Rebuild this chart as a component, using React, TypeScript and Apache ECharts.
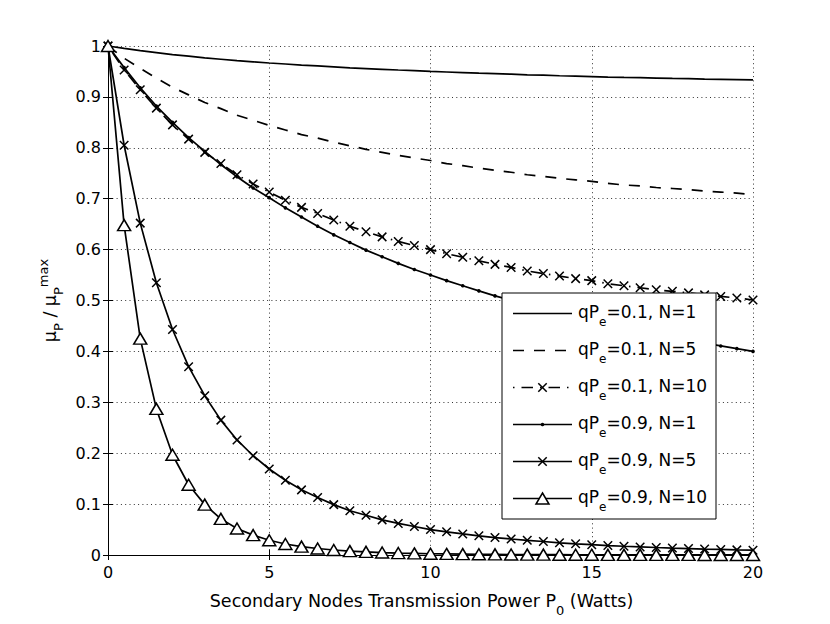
import React, { useEffect, useRef } from 'react';
import * as echarts from 'echarts';

// ---- data ----
const xValues = [
  0, 0.5, 1, 1.5, 2, 2.5, 3, 3.5, 4, 4.5, 5, 5.5, 6, 6.5, 7, 7.5, 8, 8.5, 9, 9.5, 10,
  10.5, 11, 11.5, 12, 12.5, 13, 13.5, 14, 14.5, 15, 15.5, 16, 16.5, 17, 17.5, 18, 18.5, 19, 19.5, 20,
];

const qpe01N1 = [
  1, 0.9952, 0.991, 0.987, 0.983, 0.98, 0.9767, 0.974, 0.9713, 0.969, 0.9666, 0.9646, 0.9625, 0.9608, 0.959,
  0.957, 0.9556, 0.9542, 0.9528, 0.9515, 0.95, 0.9489, 0.9478, 0.9466, 0.9456, 0.9446, 0.9434, 0.9426, 0.9416,
  0.9408, 0.94, 0.939, 0.9382, 0.9377, 0.937, 0.9364, 0.9359, 0.9351, 0.9346, 0.934, 0.9333,
];

const qpe01N5 = [
  1, 0.976, 0.956, 0.937, 0.919, 0.904, 0.889, 0.877, 0.864, 0.854, 0.844, 0.835, 0.826, 0.819, 0.811, 0.804,
  0.797, 0.791, 0.785, 0.78, 0.775, 0.769, 0.765, 0.76, 0.756, 0.752, 0.747, 0.744, 0.74, 0.737, 0.734, 0.73,
  0.727, 0.725, 0.722, 0.72, 0.718, 0.715, 0.713, 0.711, 0.708,
];

const qpe01N10 = [
  1, 0.953, 0.914, 0.878, 0.845, 0.817, 0.791, 0.769, 0.747, 0.729, 0.713, 0.697, 0.683, 0.671, 0.658, 0.646,
  0.635, 0.625, 0.616, 0.608, 0.6, 0.592, 0.585, 0.578, 0.571, 0.565, 0.558, 0.553, 0.548, 0.543, 0.539, 0.533,
  0.529, 0.525, 0.521, 0.518, 0.515, 0.511, 0.508, 0.505, 0.501,
];

const qpe09N1 = [
  1, 0.9575, 0.918, 0.882, 0.85, 0.82, 0.793, 0.767, 0.743, 0.721, 0.702, 0.682, 0.664, 0.646, 0.629, 0.614,
  0.599, 0.586, 0.573, 0.561, 0.55, 0.539, 0.529, 0.519, 0.509, 0.5005, 0.492, 0.4837, 0.4757, 0.4681, 0.4608,
  0.4537, 0.4469, 0.4403, 0.434, 0.4279, 0.422, 0.4163, 0.4107, 0.4054, 0.4,
];

const qpe09N5 = [
  1, 0.805, 0.652, 0.535, 0.443, 0.37, 0.313, 0.265, 0.226, 0.195, 0.169, 0.147, 0.128, 0.113, 0.099, 0.087,
  0.078, 0.069, 0.062, 0.056, 0.05, 0.0455, 0.0414, 0.0377, 0.0342, 0.0314, 0.0288, 0.0265, 0.024, 0.022,
  0.0203, 0.0186, 0.0172, 0.0159, 0.0147, 0.0136, 0.0126, 0.0117, 0.0109, 0.0101, 0.0094,
];

const qpe09N10 = [
  1, 0.648, 0.425, 0.287, 0.197, 0.138, 0.099, 0.071, 0.052, 0.039, 0.029, 0.0216, 0.0164, 0.0128, 0.0098,
  0.0076, 0.0061, 0.0048, 0.0038, 0.0031, 0.0025, 0.0021, 0.0017, 0.0014, 0.0012, 0.001, 0.0008, 0.0007,
  0.0006, 0.0005, 0.0004, 0.0003, 0.0003, 0.0003, 0.0002, 0.0002, 0.0002, 0.0001, 0.0001, 0.0001, 0.0001,
];

const qpeLabels = ['0.1', '0.1', '0.1', '0.9', '0.9', '0.9'];
const nLabels = ['1', '5', '10', '1', '5', '10'];
const seriesValues = [qpe01N1, qpe01N5, qpe01N10, qpe09N1, qpe09N5, qpe09N10];

const xAxisMin = 0;
const xAxisMax = 20;
const xAxisStep = 5;
const yAxisMin = 0;
const yAxisMax = 1;
const yAxisStep = 0.1;

// ---- styling ----
const FONT = 'DejaVu Sans';
const LINE_W = 1.7;
const X_MARK = 'path://M0,0L10,10M10,0L0,10';

type Look = { dash: any; sym: 'none' | 'x' | 'dot' | 'tri' };
const looks: Look[] = [
  { dash: 'solid', sym: 'none' },
  { dash: [11, 10], sym: 'none' },
  { dash: [1.5, 7, 11.5, 7], sym: 'x' },
  { dash: 'solid', sym: 'dot' },
  { dash: 'solid', sym: 'x' },
  { dash: 'solid', sym: 'tri' },
];

function symbolOpts(sym: Look['sym']) {
  if (sym === 'x') {
    return {
      symbol: X_MARK,
      symbolSize: 8.5,
      itemStyle: { color: '#000', borderColor: '#000', borderWidth: 1.5 },
    };
  }
  if (sym === 'dot') {
    return { symbol: 'circle', symbolSize: 3.6, itemStyle: { color: '#000', borderWidth: 0 } };
  }
  if (sym === 'tri') {
    return {
      symbol: 'triangle',
      symbolSize: [13, 11],
      itemStyle: { color: '#fff', borderColor: '#000', borderWidth: 1.5 },
    };
  }
  return { symbol: 'none' };
}

function legendSymbol(sym: Look['sym'], cx: number, cy: number): any[] {
  const z = 101;
  if (sym === 'x') {
    const h = 4.2;
    return [
      { type: 'line', z, shape: { x1: cx - h, y1: cy - h, x2: cx + h, y2: cy + h }, style: { stroke: '#000', lineWidth: 1.5 } },
      { type: 'line', z, shape: { x1: cx - h, y1: cy + h, x2: cx + h, y2: cy - h }, style: { stroke: '#000', lineWidth: 1.5 } },
    ];
  }
  if (sym === 'dot') {
    return [{ type: 'circle', z, shape: { cx, cy, r: 1.8 }, style: { fill: '#000' } }];
  }
  if (sym === 'tri') {
    return [
      {
        type: 'polygon',
        z,
        shape: { points: [[cx, cy - 5.5], [cx + 6.5, cy + 5.5], [cx - 6.5, cy + 5.5]] },
        style: { fill: '#fff', stroke: '#000', lineWidth: 1.5 },
      },
    ];
  }
  return [];
}

export default function App() {
  const ref = useRef<HTMLDivElement>(null);

  useEffect(() => {
    if (!ref.current) return;
    const chart = echarts.init(ref.current, null, { renderer: 'svg' });

    const series = seriesValues.map((vals, i) => ({
      name: `qPe=${qpeLabels[i]}, N=${nLabels[i]}`,
      type: 'line',
      data: xValues.map((x, k) => [x, vals[k]]),
      showSymbol: looks[i].sym !== 'none',
      showAllSymbol: true,
      smooth: false,
      clip: false,
      lineStyle: { color: '#000', width: LINE_W, type: looks[i].dash },
      ...symbolOpts(looks[i].sym),
      z: 2 + i,
    }));

    // legend box drawn with graphic elements
    const LX = 502;
    const LY = 293;
    const legendChildren: any[] = [
      {
        type: 'rect',
        z: 100,
        shape: { x: LX, y: LY, width: 214, height: 226 },
        style: { fill: '#fff', stroke: '#000', lineWidth: 1 },
      },
    ];
    const legendRich = {
      m: { fontFamily: FONT, fontSize: 17, lineHeight: 22, fill: '#000' },
      s: { fontFamily: FONT, fontSize: 12, lineHeight: 2, padding: [20, 0, 0, 0], fill: '#000' },
    };
    looks.forEach((lk, i) => {
      const cy = LY + 20.5 + 37 * i;
      legendChildren.push({
        type: 'line',
        z: 101,
        shape: { x1: LX + 11, y1: cy, x2: LX + 70, y2: cy },
        style: {
          stroke: '#000',
          lineWidth: LINE_W,
          lineDash: Array.isArray(lk.dash) ? lk.dash : null,
        },
      });
      legendChildren.push(...legendSymbol(lk.sym, LX + 40.5, cy));
      legendChildren.push({
        type: 'text',
        z: 102,
        x: LX + 76,
        y: cy - 2,
        style: {
          text: `{m|qP}{s|e}{m|=${qpeLabels[i]}, N=${nLabels[i]}}`,
          rich: legendRich,
          verticalAlign: 'middle',
          align: 'left',
        },
      });
    });

    const gridLine = { show: true, lineStyle: { color: '#333', width: 1, type: [1, 3.3] } };
    const axisLineStyle = { show: true, lineStyle: { color: '#000', width: 1 } };
    const tickStyle = { show: true, inside: true, length: 5, lineStyle: { color: '#000', width: 1 } };

    const option: any = {
      animation: false,
      backgroundColor: '#fff',
      grid: { left: 108, right: 77, top: 46, bottom: 69, containLabel: false },
      xAxis: [
        {
          type: 'value',
          position: 'bottom',
          min: xAxisMin,
          max: xAxisMax,
          interval: xAxisStep,
          axisLine: axisLineStyle,
          axisTick: tickStyle,
          splitLine: gridLine,
          axisLabel: { fontFamily: FONT, fontSize: 16, color: '#000', margin: 9, lineHeight: 16 },
          name: '{t|Secondary Nodes Transmission Power P}{s|0}{t| (Watts)}',
          nameLocation: 'middle',
          nameGap: 30,
          nameTextStyle: {
            padding: [0, 18, 0, 0],
            rich: {
              t: { fontFamily: FONT, fontSize: 17.5, lineHeight: 20, color: '#000' },
              s: { fontFamily: FONT, fontSize: 13, lineHeight: 2, padding: [19, 0, 0, 0], color: '#000' },
            },
          },
        },
        {
          type: 'value',
          position: 'top',
          min: xAxisMin,
          max: xAxisMax,
          interval: xAxisStep,
          axisLine: axisLineStyle,
          axisTick: tickStyle,
          axisLabel: { show: false },
          splitLine: { show: false },
        },
      ],
      yAxis: [
        {
          type: 'value',
          position: 'left',
          min: yAxisMin,
          max: yAxisMax,
          interval: yAxisStep,
          axisLine: axisLineStyle,
          axisTick: tickStyle,
          splitLine: gridLine,
          axisLabel: { fontFamily: FONT, fontSize: 16, color: '#000', margin: 7 },
          name: '{m|μ}{s|P}{m| / μ}{s|P}{p|max}',
          nameLocation: 'middle',
          nameGap: 48,
          nameTextStyle: {
            rich: {
              m: { fontFamily: FONT, fontSize: 17.5, lineHeight: 20, color: '#000' },
              s: { fontFamily: FONT, fontSize: 13, lineHeight: 2, padding: [16, 0, 0, 0], color: '#000' },
              p: { fontFamily: FONT, fontSize: 13, lineHeight: 2, padding: [0, 0, 13, 0], color: '#000' },
            },
          },
        },
        {
          type: 'value',
          position: 'right',
          min: yAxisMin,
          max: yAxisMax,
          interval: yAxisStep,
          axisLine: axisLineStyle,
          axisTick: tickStyle,
          axisLabel: { show: false },
          splitLine: { show: false },
        },
      ],
      series,
      graphic: legendChildren,
    };

    chart.setOption(option);
    return () => chart.dispose();
  }, []);

  return (
    <div
      ref={ref}
      style={{ position: 'absolute', left: 0, top: 0, width: 830, height: 624, background: '#fff' }}
    />
  );
}
